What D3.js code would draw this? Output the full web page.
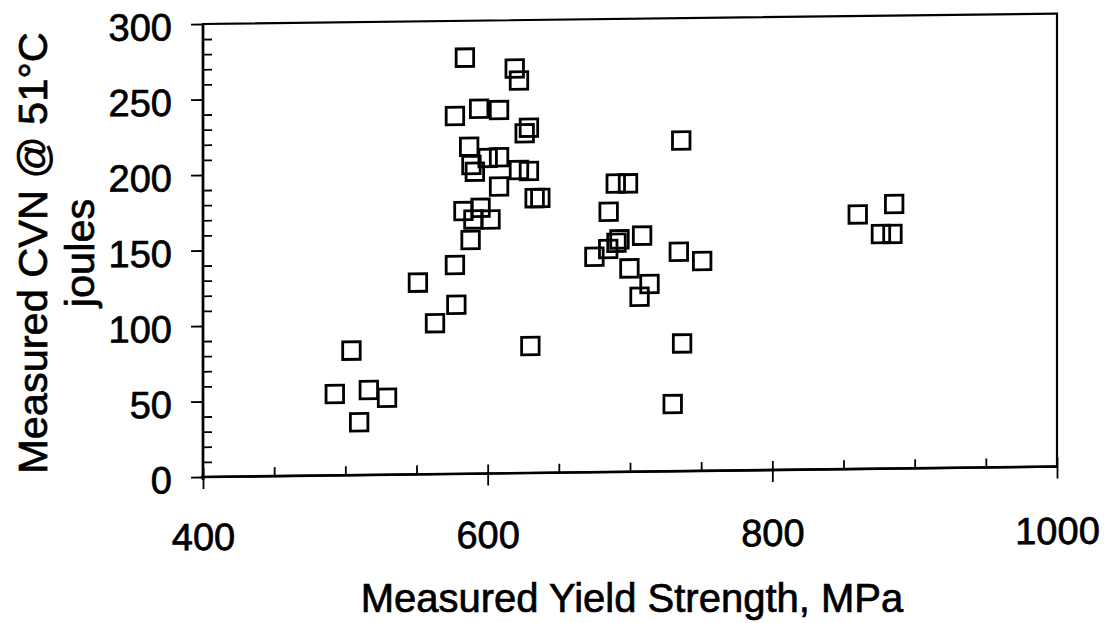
<!DOCTYPE html>
<html>
<head>
<meta charset="utf-8">
<script src="https://cdn.jsdelivr.net/npm/d3@7"></script>
<style>
  html, body { margin: 0; padding: 0; background: #fff; }
  svg { display: block; }
  text { font-family: "Liberation Sans", Arial, sans-serif; fill: #000; stroke: #000; stroke-width: 0.7px; }
</style>
</head>
<body>
<svg id="chart" width="1112" height="623"></svg>
<script>
// Measured yield strength (MPa) and Charpy V-notch energy at 51°C (J)
const yieldStrength = [
  492.6, 504.3, 509.7, 516.5, 529.3, 551, 563, 577, 578,
  584, 619, 622, 577, 594, 608, 629, 626, 587,
  588.6, 591, 600, 608, 622, 629, 608, 633, 637,
  583, 595, 590, 602, 588, 630,
  675, 684.7, 690.5, 692.6, 708.5, 685, 690, 698.6,
  699.6, 713.7, 706.7, 734.3, 750.7, 736, 736.6, 730,
  860, 885.6, 876.3, 884.4
];
const cvnEnergy = [
  53.9, 82.5, 35.0, 56.3, 51.0, 127, 100, 138.4, 112,
  275.6, 268, 260, 237, 241.6, 240.6, 228.7, 225, 216.6,
  204.4, 200, 209, 209.4, 200.7, 200, 190, 182, 182,
  174, 176, 168.4, 168.2, 154.8, 84.1,
  142.7, 147.7, 151.8, 154, 156.3, 172.4, 191, 191,
  134.7, 124.2, 115.8, 145.3, 139, 219, 84.6, 44.5,
  168.6, 175.2, 155.4, 155.4
];
const xMajorTicks = [400, 600, 800, 1000];
const yMajorTicks = [0, 50, 100, 150, 200, 250, 300];
const xTitle = "Measured Yield Strength, MPa";
const yTitleLines = ["Measured CVN @ 51°C", "joules"];

const points = yieldStrength.map((v, i) => ({ x: v, y: cvnEnergy[i] }));

const svg = d3.select("#chart");
const plotLeft = 203, plotRight = 1057, plotTop = 24, plotBottom = 477;

const x = d3.scaleLinear().domain([400, 1000]).range([plotLeft, plotRight]);
const y = d3.scaleLinear().domain([0, 300]).range([plotBottom, plotTop]);

const xMinor = d3.range(400, 1001, 50).filter(v => v % 200 !== 0);
const yMinor = d3.range(0, 301, 10).filter(v => v % 50 !== 0);

// the whole plate sits on a slight tilt
const plot = svg.append("g")
  .attr("transform", `translate(${plotLeft},${plotBottom}) skewY(-0.7) translate(${-plotLeft},${-plotBottom})`);

// frame
plot.append("rect")
  .attr("x", plotLeft).attr("y", plotTop)
  .attr("width", plotRight - plotLeft).attr("height", plotBottom - plotTop)
  .attr("fill", "none").attr("stroke", "#000").attr("stroke-width", 2.2);

function styleAxis(g) {
  g.select(".domain").remove();
  g.selectAll(".tick line").attr("stroke", "#000").attr("stroke-width", 1.8);
  g.selectAll(".tick text").remove();
}

// x major ticks cross the axis, minor ticks point inward
plot.append("g")
  .attr("transform", `translate(0,${plotBottom})`)
  .call(d3.axisBottom(x).tickValues(xMajorTicks).tickSize(12))
  .call(styleAxis)
  .selectAll(".tick line").attr("y1", -9);
plot.append("g")
  .attr("transform", `translate(0,${plotBottom})`)
  .call(d3.axisBottom(x).tickValues(xMinor).tickSize(-9))
  .call(styleAxis);

// y major ticks point outward, minor ticks inward
plot.append("g")
  .attr("transform", `translate(${plotLeft},0)`)
  .call(d3.axisLeft(y).tickValues(yMajorTicks).tickSize(12))
  .call(styleAxis);
plot.append("g")
  .attr("transform", `translate(${plotLeft},0)`)
  .call(d3.axisLeft(y).tickValues(yMinor).tickSize(-9))
  .call(styleAxis);

// axis lines drawn a little heavier
plot.append("line")
  .attr("x1", plotLeft).attr("x2", plotLeft).attr("y1", plotTop).attr("y2", plotBottom + 3)
  .attr("stroke", "#000").attr("stroke-width", 2.6);
plot.append("line")
  .attr("x1", plotLeft - 2).attr("x2", plotRight).attr("y1", plotBottom).attr("y2", plotBottom)
  .attr("stroke", "#000").attr("stroke-width", 2.6);

// open square markers
const s = 17.5;
plot.append("g").selectAll("rect")
  .data(points)
  .join("rect")
  .attr("x", d => x(d.x) - s / 2)
  .attr("y", d => y(d.y) - s / 2)
  .attr("width", s).attr("height", s)
  .attr("fill", "none")
  .attr("stroke", "#000")
  .attr("stroke-width", 2.8);

// tick labels
const labels = svg.append("g")
  .attr("transform", `translate(${plotLeft},${plotBottom}) skewY(-0.4) translate(${-plotLeft},${-plotBottom})`);

labels.append("g")
  .attr("transform", `translate(0,${plotBottom})`)
  .call(d3.axisBottom(x).tickValues(xMajorTicks).tickFormat(d3.format("d")).tickSize(0).tickPadding(46))
  .call(g => g.select(".domain").remove())
  .selectAll("text")
  .attr("font-size", 38)
  .attr("font-family", "Liberation Sans, Arial, sans-serif")
  .attr("fill", "#000");

labels.append("g")
  .attr("transform", `translate(${plotLeft},2)`)
  .call(d3.axisLeft(y).tickValues(yMajorTicks).tickFormat(d3.format("d")).tickSize(0).tickPadding(31))
  .call(g => g.select(".domain").remove())
  .selectAll("text")
  .attr("font-size", 38)
  .attr("font-family", "Liberation Sans, Arial, sans-serif")
  .attr("fill", "#000")
  .attr("dy", "0.36em");

// axis titles
svg.append("text")
  .attr("x", 632).attr("y", 612)
  .attr("text-anchor", "middle")
  .attr("font-size", 40)
  .text(xTitle);

const yTitle = svg.append("g");
yTitleLines.forEach((t, i) => {
  yTitle.append("text")
    .attr("transform", `translate(${47 + i * 47},253) rotate(-90)`)
    .attr("text-anchor", "middle")
    .attr("font-size", 41.5)
    .text(t);
});
</script>
</body>
</html>
